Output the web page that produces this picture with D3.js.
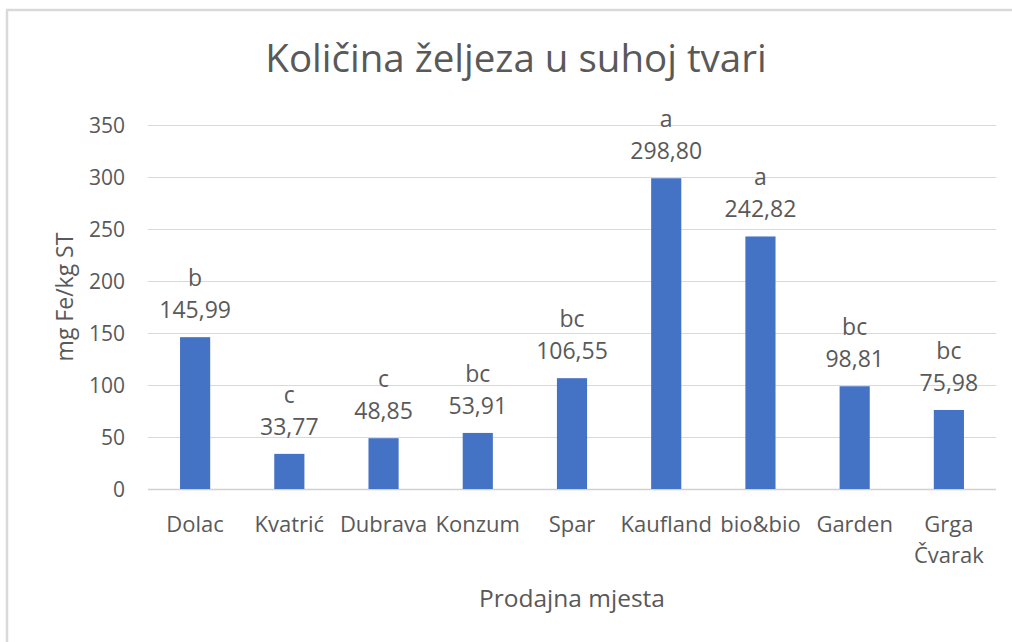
<!DOCTYPE html>
<html><head><meta charset="utf-8">
<script src="https://cdn.jsdelivr.net/npm/d3@7/dist/d3.min.js"></script>
<style>body{margin:0;background:#fff}svg{display:block}text{font-family:"Open Sans",Lato,sans-serif;fill:#595959}</style>
</head><body><svg id="c" width="1012" height="642"></svg>
<script>
const categories = ["Dolac","Kvatrić","Dubrava","Konzum","Spar","Kaufland","bio&bio","Garden","Grga Čvarak"];
const values = [145.99,33.77,48.85,53.91,106.55,298.80,242.82,98.81,75.98];
const groups = ["b","c","c","bc","bc","a","a","bc","bc"];
const yTicks = [0,50,100,150,200,250,300,350];
const title = "Količina željeza u suhoj tvari";
const xTitle = "Prodajna mjesta";
const yTitle = "mg Fe/kg ST";

const svg = d3.select("#c");
// outer frame (top and left edges visible)
svg.append("line").attr("x1",6).attr("x2",1012).attr("y1",10).attr("y2",10).attr("stroke","#d9d9d9").attr("stroke-width",2.5);
svg.append("line").attr("x1",7).attr("x2",7).attr("y1",10).attr("y2",642).attr("stroke","#d9d9d9").attr("stroke-width",2.5);

const m = {l:148, r:996, t:125, b:489};
const x = d3.scaleBand().domain(categories).range([m.l,m.r]).paddingInner(0.68).paddingOuter(0.34);
const y = d3.scaleLinear().domain([0,350]).range([m.b,m.t]);

// gridlines
svg.append("g").selectAll("line").data(yTicks).join("line")
  .attr("x1",m.l).attr("x2",m.r).attr("y1",d=>Math.round(y(d))+0.5).attr("y2",d=>Math.round(y(d))+0.5)
  .attr("stroke",d=>d===0?"#d0d0d0":"#d9d9d9").attr("stroke-width",d=>d===0?1.5:1);

// y axis
const ya = svg.append("g").attr("transform",`translate(${m.l-23},0)`)
  .call(d3.axisLeft(y).tickValues(yTicks).tickSize(0).tickPadding(0));
ya.select(".domain").remove();
ya.selectAll("text").attr("font-size",21).attr("fill","#595959").attr("dy","0.36em")
  .style("font-family","'Open Sans',sans-serif");

// bars
svg.append("g").selectAll("rect").data(values).join("rect")
  .attr("x",(d,i)=>x(categories[i])).attr("width",x.bandwidth())
  .attr("y",d=>y(d)).attr("height",d=>y(0)-y(d)).attr("fill","#4472C4");

// data labels
const lab = svg.append("g").attr("text-anchor","middle").attr("font-size",23);
values.forEach((v,i)=>{
  const cx = x(categories[i]) + x.bandwidth()/2;
  lab.append("text").attr("x",cx).attr("y",y(v)-19).text(v.toFixed(2).replace(".",","));
  lab.append("text").attr("x",cx).attr("y",y(v)-51).text(groups[i]);
});

// category labels
const cl = svg.append("g").attr("text-anchor","middle").attr("font-size",22);
categories.forEach(c=>{
  const cx = x(c) + x.bandwidth()/2;
  const t = cl.append("text").attr("x",cx).attr("y",532);
  const words = c === "Grga Čvarak" ? ["Grga","Čvarak"] : [c];
  words.forEach((w,j)=>t.append("tspan").attr("x",cx).attr("dy",j?31:0).text(w));
});

// titles
svg.append("text").attr("x",516).attr("y",72).attr("text-anchor","middle").attr("font-size",38.5).text(title);
svg.append("text").attr("x",(m.l+m.r)/2).attr("y",607).attr("text-anchor","middle").attr("font-size",24.5).text(xTitle);
svg.append("text").attr("transform",`translate(73,297) rotate(-90)`).attr("text-anchor","middle").attr("font-size",23).text(yTitle);
</script></body></html>
